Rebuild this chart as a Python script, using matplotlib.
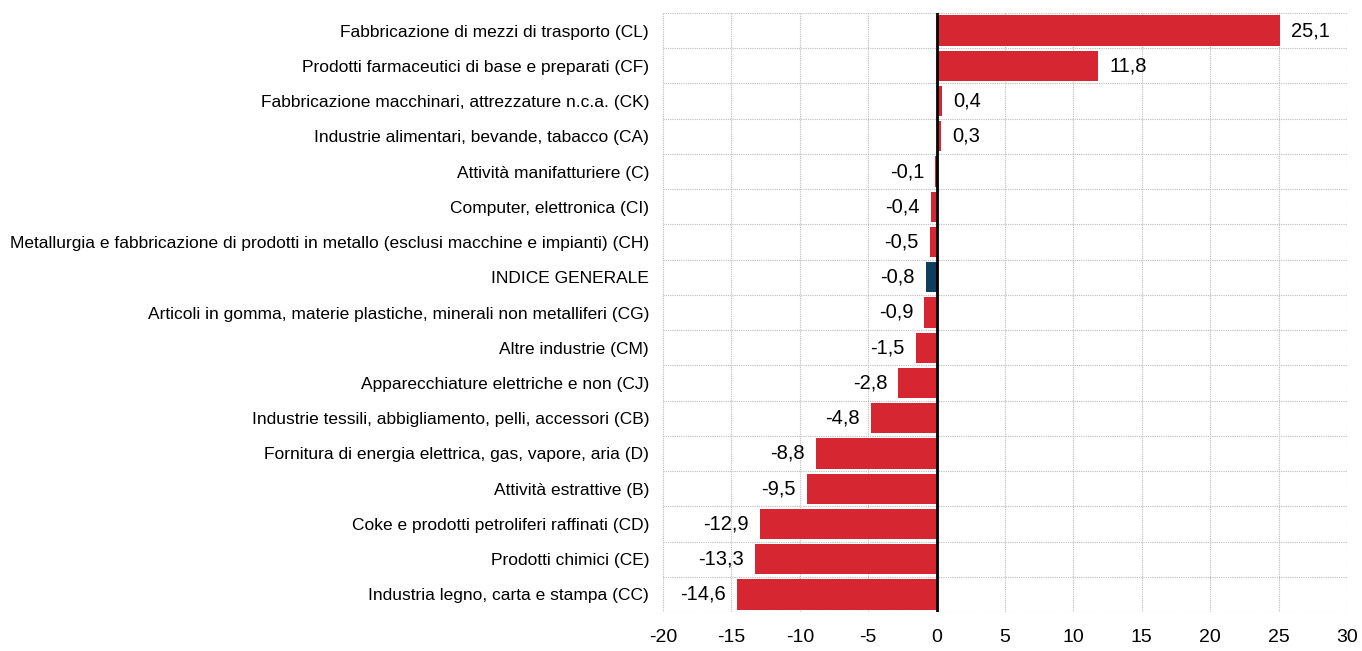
import matplotlib
matplotlib.use("Agg")
import matplotlib.pyplot as plt
from matplotlib import font_manager

categories = [
    "Fabbricazione di mezzi di trasporto (CL)",
    "Prodotti farmaceutici di base e preparati (CF)",
    "Fabbricazione macchinari, attrezzature n.c.a. (CK)",
    "Industrie alimentari, bevande, tabacco (CA)",
    "Attività manifatturiere (C)",
    "Computer, elettronica (CI)",
    "Metallurgia e fabbricazione di prodotti in metallo (esclusi macchine e impianti) (CH)",
    "INDICE GENERALE",
    "Articoli in gomma, materie plastiche, minerali non metalliferi (CG)",
    "Altre industrie (CM)",
    "Apparecchiature elettriche e non (CJ)",
    "Industrie tessili, abbigliamento, pelli, accessori (CB)",
    "Fornitura di energia elettrica, gas, vapore, aria (D)",
    "Attività estrattive (B)",
    "Coke e prodotti petroliferi raffinati (CD)",
    "Prodotti chimici (CE)",
    "Industria legno, carta e stampa (CC)",
]
values = [25.1, 11.8, 0.4, 0.3, -0.1, -0.4, -0.5, -0.8, -0.9, -1.5, -2.8,
          -4.8, -8.8, -9.5, -12.9, -13.3, -14.6]
xticks = [-20, -15, -10, -5, 0, 5, 10, 15, 20, 25, 30]

names = {f.name for f in font_manager.fontManager.ttflist}
fam = "Liberation Sans Narrow" if "Liberation Sans Narrow" in names else "Liberation Sans"
plt.rcParams['font.family'] = [fam, 'DejaVu Sans']

RED = "#D52632"
NAVY = "#0F3D5E"

fig = plt.figure(figsize=(13.62, 6.51), dpi=100)
ax = fig.add_axes([663/1362, 1 - 612/651, (1347-663)/1362, (612-13)/651])

n = len(categories)
ypos = list(range(n))
colors = [NAVY if c == "INDICE GENERALE" else RED for c in categories]
ax.barh(ypos, values, height=0.86, color=colors, zorder=2)

ax.set_xlim(-20, 30)
ax.set_ylim(n - 0.5, -0.5)
ax.set_xticks(xticks)
ax.set_xticklabels([str(t) for t in xticks], fontsize=14)
ax.set_yticks(ypos)
ax.set_yticklabels(categories, fontsize=12.5)
ax.tick_params(axis='both', length=0)
ax.tick_params(axis='y', pad=10)
ax.tick_params(axis='x', pad=12)

# grid
for t in xticks:
    if t != 0:
        ax.axvline(t, color="#BBBBBB", lw=0.8, ls=(0, (1, 1)), zorder=1)
for y in range(n + 1):
    ax.axhline(y - 0.5, color="#BBBBBB", lw=0.8, ls=(0, (1, 1)), zorder=1)
ax.axvline(0, color="black", lw=2, zorder=3)
for s in ax.spines.values():
    s.set_visible(False)

for y, v in zip(ypos, values):
    txt = f"{v:.1f}".replace(".", ",")
    if v >= 0:
        ax.annotate(txt, (v, y), xytext=(8, 0), textcoords="offset points",
                    ha="left", va="center", fontsize=14.5)
    else:
        ax.annotate(txt, (v, y), xytext=(-8, 0), textcoords="offset points",
                    ha="right", va="center", fontsize=14.5)

fig.savefig("out.png", dpi=100)
